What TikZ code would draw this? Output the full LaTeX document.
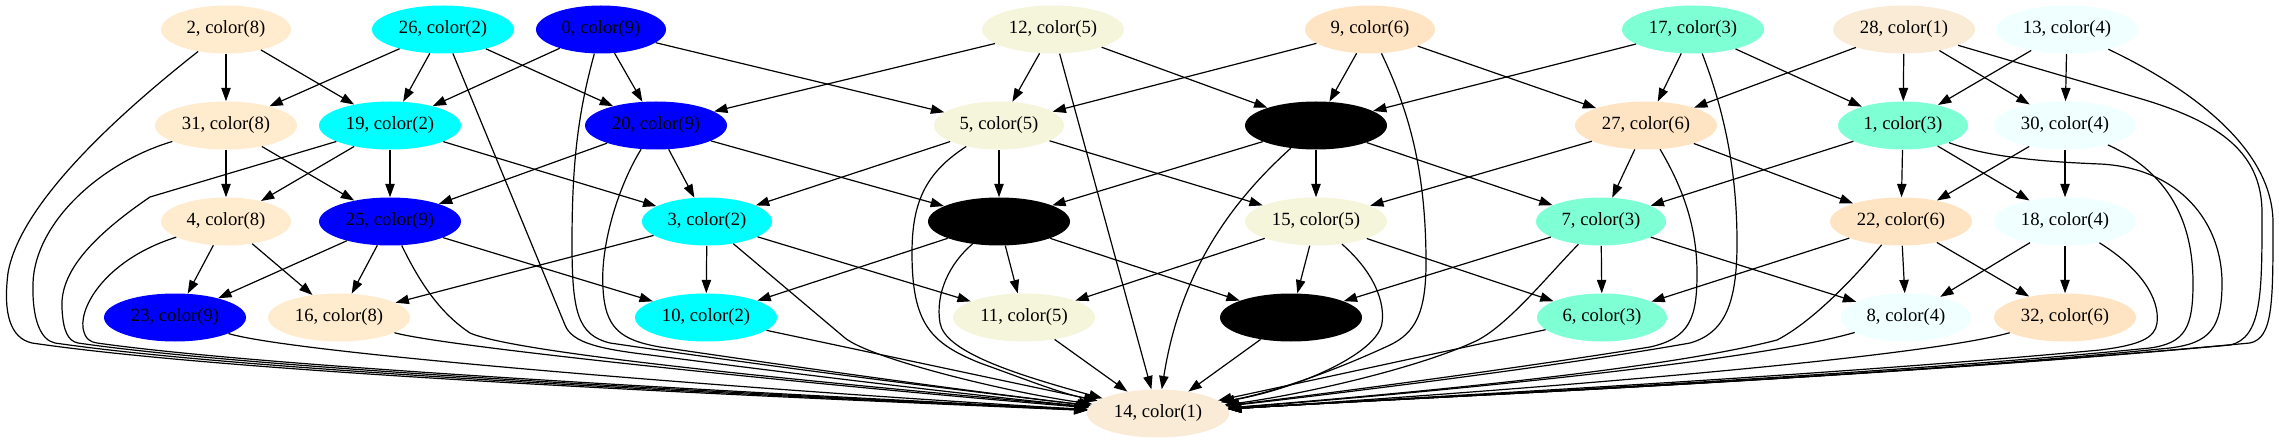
\documentclass[tikz,border=0pt]{standalone}
\usepackage{fontspec}
\setmainfont{Liberation Serif}
\usetikzlibrary{shapes.geometric,arrows.meta}
\definecolor{cA}{HTML}{FAEBD7}
\definecolor{cB}{HTML}{00FFFF}
\definecolor{cC}{HTML}{7FFFD4}
\definecolor{cD}{HTML}{F0FFFF}
\definecolor{cE}{HTML}{F5F5DC}
\definecolor{cF}{HTML}{FFE4C4}
\definecolor{cH}{HTML}{FFEBCD}
\definecolor{cI}{HTML}{0000FF}
\begin{document}
\begin{tikzpicture}[x=0.75pt,y=0.75pt,
  nd/.style={ellipse,draw=none,inner sep=0pt,minimum height=36pt,font=\fontsize{14}{16}\selectfont},
  sw/.style={nd,minimum width=97.5pt},
  dw/.style={nd,minimum width=106.5pt},
  arr/.style={-{Triangle[length=10pt,width=7pt]},line width=0.9pt}]
\useasboundingbox (0,0) rectangle (2279,443);
% row 1
\node[sw,fill=cH] (n2) at (226,413.5) {2, color(8)};
\node[dw,fill=cB] (n26) at (443,413.5) {26, color(2)};
\node[sw,fill=cI] (n0) at (601,413.5) {0, color(9)};
\node[dw,fill=cE] (n12) at (1053,413.5) {12, color(5)};
\node[sw,fill=cF] (n9) at (1370,413.5) {9, color(6)};
\node[dw,fill=cC] (n17) at (1693,413.5) {17, color(3)};
\node[dw,fill=cA] (n28) at (1904,413.5) {28, color(1)};
\node[dw,fill=cD] (n13) at (2067,413.5) {13, color(4)};
% row 2
\node[dw,fill=cH] (n31) at (226,317.5) {31, color(8)};
\node[dw,fill=cB] (n19) at (390,317.5) {19, color(2)};
\node[dw,fill=cI] (n20) at (656,317.5) {20, color(9)};
\node[sw,fill=cE] (n5) at (999,317.5) {5, color(5)};
\node[dw,fill=black] (b2) at (1316,317.5) {};
\node[dw,fill=cF] (n27) at (1646,317.5) {27, color(6)};
\node[sw,fill=cC] (n1) at (1903,317.5) {1, color(3)};
\node[dw,fill=cD] (n30) at (2065,317.5) {30, color(4)};
% row 3
\node[sw,fill=cH] (n4) at (226,221.5) {4, color(8)};
\node[dw,fill=cI] (n25) at (390,221.5) {25, color(9)};
\node[sw,fill=cB] (n3) at (707,221.5) {3, color(2)};
\node[dw,fill=black] (b3) at (999,221.5) {};
\node[dw,fill=cE] (n15) at (1316,221.5) {15, color(5)};
\node[sw,fill=cC] (n7) at (1601,221.5) {7, color(3)};
\node[dw,fill=cF] (n22) at (1901,221.5) {22, color(6)};
\node[dw,fill=cD] (n18) at (2065,221.5) {18, color(4)};
% row 4
\node[dw,fill=cI] (n23) at (175,125.5) {23, color(9)};
\node[dw,fill=cH] (n16) at (339,125.5) {16, color(8)};
\node[dw,fill=cB] (n10) at (706,125.5) {10, color(2)};
\node[dw,fill=cE] (n11) at (1024,125.5) {11, color(5)};
\node[dw,fill=black] (b4) at (1291,125.5) {};
\node[sw,fill=cC] (n6) at (1602,125.5) {6, color(3)};
\node[sw,fill=cD] (n8) at (1906,125.5) {8, color(4)};
\node[dw,fill=cF] (n32) at (2065,125.5) {32, color(6)};
% row 5
\node[dw,fill=cA] (n14) at (1158,29.5) {14, color(1)};
% short edges
\foreach \a/\b in {n2/n31,n2/n19,n26/n31,n26/n19,n26/n20,n0/n19,n0/n20,n0/n5,
  n12/n20,n12/n5,n12/b2,n9/n5,n9/b2,n9/n27,n17/b2,n17/n27,n17/n1,
  n28/n27,n28/n1,n28/n30,n13/n1,n13/n30,
  n31/n4,n31/n25,n19/n4,n19/n25,n19/n3,n20/n25,n20/n3,n20/b3,
  n5/n3,n5/b3,n5/n15,b2/b3,b2/n15,b2/n7,n27/n15,n27/n7,n27/n22,
  n1/n7,n1/n22,n1/n18,n30/n22,n30/n18,
  n4/n23,n4/n16,n25/n23,n25/n16,n25/n10,n3/n16,n3/n10,n3/n11,
  b3/n10,b3/n11,b3/b4,n15/n11,n15/b4,n15/n6,n7/b4,n7/n6,n7/n8,
  n22/n6,n22/n8,n22/n32,n18/n8,n18/n32,
  n10/n14,n11/n14,b4/n14,n6/n14,n12/n14}
  \draw[arr] (\a) -- (\b);
% long edges to 14, left side
\draw[arr] (n2) .. controls (120,330) and (20,240) .. (8,170) .. controls (3,130) and (10,105) .. (32,100) .. controls (250,68) and (800,45) .. (n14);
\draw[arr] (n31) .. controls (100,280) and (35,220) .. (33,160) .. controls (32,125) and (40,103) .. (55,100) .. controls (260,70) and (800,46) .. (n14);
\draw[arr] (n19) -- (150,246) .. controls (90,205) and (60,170) .. (62,135) .. controls (63,112) and (68,102) .. (78,100) .. controls (270,72) and (800,47) .. (n14);
\draw[arr] (n4) .. controls (110,185) and (80,140) .. (83,115) .. controls (85,104) and (90,101) .. (97,100) .. controls (280,74) and (800,48) .. (n14);
\draw[arr] (n26) -- (565,118) .. controls (572,100) and (600,94) .. (650,88) .. controls (850,62) and (1000,45) .. (n14);
\draw[arr] (n0) .. controls (578,330) and (572,280) .. (572,200) .. controls (572,130) and (578,108) .. (610,100) .. controls (800,72) and (1000,48) .. (n14);
\draw[arr] (n20) .. controls (620,260) and (600,200) .. (603,155) .. controls (605,115) and (620,103) .. (660,96) .. controls (850,68) and (1000,48) .. (n14);
\draw[arr] (n25) .. controls (420,160) and (440,130) .. (470,110) .. controls (520,88) and (850,58) .. (n14);
\draw[arr] (n23) .. controls (300,88) and (800,50) .. (n14);
\draw[arr] (n16) .. controls (450,95) and (850,55) .. (n14);
\draw[arr] (n3) -- (845,105) .. controls (870,85) and (1000,52) .. (n14);
\draw[arr] (n5) .. controls (925,270) and (912,240) .. (912,190) .. controls (912,120) and (930,100) .. (980,80) .. controls (1030,62) and (1060,50) .. (n14);
\draw[arr] (b3) .. controls (950,180) and (935,150) .. (940,120) .. controls (945,92) and (1010,70) .. (n14);
% long edges to 14, right side
\draw[arr] (b2) .. controls (1230,240) and (1180,170) .. (n14);
\draw[arr] (n15) .. controls (1375,170) and (1385,140) .. (1382,120) .. controls (1378,90) and (1300,55) .. (n14);
\draw[arr] (n9) .. controls (1410,330) and (1426,270) .. (1426,180) .. controls (1426,130) and (1415,110) .. (1390,98) .. controls (1330,70) and (1270,50) .. (n14);
\draw[arr] (n17) .. controls (1725,330) and (1737,270) .. (1737,200) .. controls (1737,140) and (1725,110) .. (1690,100) .. controls (1550,75) and (1300,45) .. (n14);
\draw[arr] (n27) .. controls (1680,260) and (1697,220) .. (1697,170) .. controls (1697,125) and (1690,105) .. (1650,96) .. controls (1500,72) and (1300,46) .. (n14);
\draw[arr] (n7) .. controls (1550,170) and (1510,120) .. (1478,103) .. controls (1420,75) and (1300,48) .. (n14);
\draw[arr] (n22) .. controls (1850,160) and (1810,120) .. (1777,103) .. controls (1650,70) and (1350,45) .. (n14);
\draw[arr] (n8) .. controls (1750,80) and (1400,48) .. (n14);
\draw[arr] (n32) .. controls (1900,80) and (1400,45) .. (n14);
\draw[arr] (n18) .. controls (2140,175) and (2160,145) .. (2157,120) .. controls (2155,105) and (2140,98) .. (2100,93) .. controls (1800,65) and (1400,45) .. (n14);
\draw[arr] (n30) .. controls (2170,270) and (2193,220) .. (2193,160) .. controls (2193,115) and (2185,100) .. (2150,95) .. controls (1850,65) and (1400,45) .. (n14);
\draw[arr] (n1) .. controls (1990,285) and (2050,281) .. (2100,279) .. controls (2180,275) and (2222,220) .. (2222,160) .. controls (2222,115) and (2210,100) .. (2170,95) .. controls (1850,63) and (1400,45) .. (n14);
\draw[arr] (n28) -- (2145,343) .. controls (2220,320) and (2262,290) .. (2262,230) .. controls (2262,150) and (2262,105) .. (2230,98) .. controls (1850,63) and (1400,45) .. (n14);
\draw[arr] (n13) .. controls (2200,350) and (2273,290) .. (2273,220) .. controls (2273,140) and (2273,105) .. (2250,100) .. controls (1850,63) and (1400,45) .. (n14);
\end{tikzpicture}
\end{document}
